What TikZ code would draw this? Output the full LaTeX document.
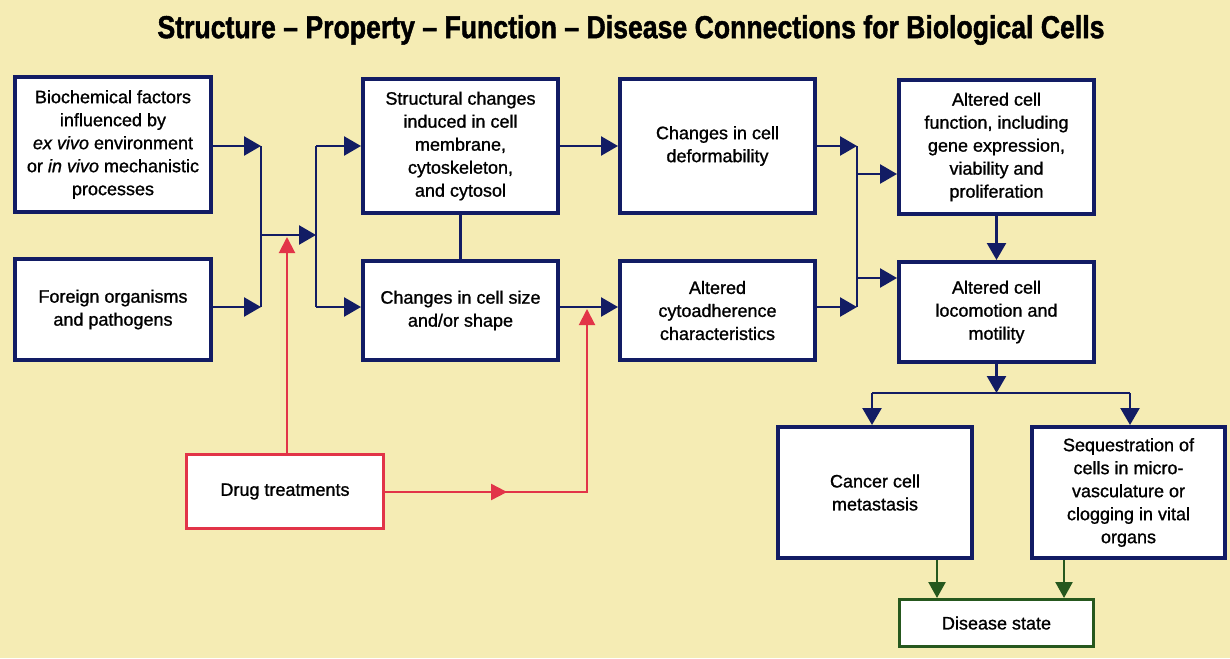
\documentclass[tikz,border=0pt]{standalone}
\usepackage{fontspec}
\setmainfont{Liberation Sans}
\newfontfamily\boxfont{Liberation Sans}[FakeBold=1.1]
\newfontfamily\titlefont{Liberation Sans}[BoldFeatures={FakeBold=1.6}]
\usetikzlibrary{arrows.meta,decorations.markings}

\definecolor{paper}{RGB}{245,236,180}
\definecolor{navy}{RGB}{18,28,100}
\definecolor{drugred}{RGB}{226,52,72}
\definecolor{darkgreen}{RGB}{38,88,30}

\begin{document}
\begin{tikzpicture}[x=1pt,y=-1pt,
  box/.style={draw=navy, line width=4pt, fill=white, align=center, inner sep=0pt,
              font=\boxfont\fontsize{18}{23}\selectfont},
  drugbox/.style={box, draw=drugred, line width=3pt},
  endbox/.style={box, draw=darkgreen, line width=3pt},
  flow/.style={draw=navy, line width=2.5pt, -{Triangle[length=17pt,width=19pt]}},
  link/.style={draw=navy, line width=2.5pt},
  redflow/.style={draw=drugred, line width=2pt, -{Triangle[length=16pt,width=16pt]}},
  greenflow/.style={draw=darkgreen, line width=2.5pt, -{Triangle[length=16pt,width=17pt]}},
]
% page and background
\fill[paper] (0,0) rectangle (1230,658);
\useasboundingbox (0,0) rectangle (1230,658);

% title
\node (title) at (631,30) {\resizebox{947pt}{23pt}{\titlefont\bfseries Structure – Property – Function – Disease Connections for Biological Cells}};

% boxes
\node[box, minimum width=196pt, minimum height=135pt] (bio) at (113,144.5)
  {Biochemical factors\\ influenced by\\ \textit{ex vivo} environment\\ or \textit{in vivo} mechanistic\\ processes};
\node[box, minimum width=196pt, minimum height=101pt] (foreign) at (113,309.5)
  {Foreign organisms\\ and pathogens};
\node[box, minimum width=195pt, minimum height=134pt] (struct) at (460.5,146)
  {Structural changes\\ induced in cell\\ membrane,\\ cytoskeleton,\\ and cytosol};
\node[box, minimum width=195pt, minimum height=99pt] (size) at (460.5,310.5)
  {Changes in cell size\\ and/or shape};
\node[box, minimum width=195pt, minimum height=134pt] (deform) at (717.5,146)
  {Changes in cell\\ deformability};
\node[box, minimum width=195pt, minimum height=99pt] (adhere) at (717.5,310.5)
  {Altered\\ cytoadherence\\ characteristics};
\node[box, minimum width=195pt, minimum height=134pt] (func) at (996.5,147)
  {Altered cell\\ function, including\\ gene expression,\\ viability and\\ proliferation};
\node[box, minimum width=195pt, minimum height=100pt] (loco) at (996.5,312)
  {Altered cell\\ locomotion and\\ motility};
\node[box, minimum width=194pt, minimum height=131pt] (cancer) at (875,492.5)
  {Cancer cell\\ metastasis};
\node[box, minimum width=193pt, minimum height=131pt] (seq) at (1128.5,492.5)
  {Sequestration of\\ cells in micro-\\ vasculature or\\ clogging in vital\\ organs};
\node[drugbox, minimum width=197pt, minimum height=74pt] (drug) at (285,491.5)
  {Drug treatments};
\node[endbox, minimum width=194pt, minimum height=47pt] (disease) at (996.5,623)
  {Disease state};

% junction points
\coordinate (j1) at (261,146);
\coordinate (j1b) at (261,307);
\coordinate (j1m) at (261,235);
\coordinate (j2) at (316,235);
\coordinate (j2t) at (316,146);
\coordinate (j2b) at (316,307);
\coordinate (j3t) at (857,146);
\coordinate (j3b) at (857,307);
\coordinate (j3u) at (857,174);
\coordinate (j3d) at (857,278);
\coordinate (j4) at (996.5,393);
\coordinate (j4l) at (872,393);
\coordinate (j4r) at (1130,393);
\coordinate (g1) at (937,0);
\coordinate (g2) at (1064,0);
\coordinate (r1) at (287,237);
\coordinate (rcorner) at (587,492);
\coordinate (rbend) at (587,324);
\coordinate (rtip) at (587,309);

% inputs merge, then split towards the structural boxes
\draw[flow] (bio.east |- j1) -- (j1);
\draw[flow] (foreign.east |- j1b) -- (j1b);
\draw[link] (j1) -- (j1b);
\draw[flow] (j1m) -- (j2);
\draw[link] (j2t) -- (j2b);
\draw[flow] (j2t) -- (struct.west |- j2t);
\draw[flow] (j2b) -- (size.west |- j2b);
\draw[link] (struct.south) -- (size.north);

% properties
\draw[flow] (struct.east |- j2t) -- (deform.west |- j2t);
\draw[flow] (size.east |- j2b) -- (adhere.west |- j2b);

% properties merge into function
\draw[flow] (deform.east |- j3t) -- (j3t);
\draw[flow] (adhere.east |- j3b) -- (j3b);
\draw[link] (j3t) -- (j3b);
\draw[flow] (j3u) -- (func.west |- j3u);
\draw[flow] (j3d) -- (loco.west |- j3d);
\draw[flow] (func.south) -- (loco.north);

% function to disease
\draw[flow] (loco.south) -- (j4);
\draw[link] (j4l) -- (j4r);
\draw[flow] (j4l) -- (j4l |- cancer.north);
\draw[flow] (j4r) -- (j4r |- seq.north);
\draw[greenflow] (cancer.south -| g1) -- (g1 |- disease.north);
\draw[greenflow] (seq.south -| g2) -- (g2 |- disease.north);

% drug treatments
\draw[redflow] (drug.north -| r1) -- (r1);
\draw[draw=drugred, line width=2pt,
      postaction={decorate},
      decoration={markings, mark=at position 0.33 with {\arrow[drugred]{Triangle[length=16pt,width=16pt]}}}]
  (drug.east |- rcorner) -- (rcorner) -- (rbend);
\draw[redflow] (rbend) -- (rtip);
\end{tikzpicture}
\end{document}
